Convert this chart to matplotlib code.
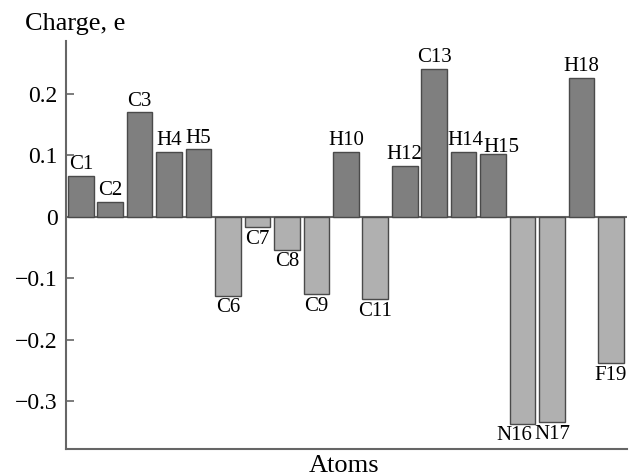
import matplotlib.pyplot as plt
import numpy as np

atoms = ["C1", "C2", "C3", "H4", "H5", "C6", "C7", "C8", "C9", "H10",
         "C11", "H12", "C13", "H14", "H15", "N16", "N17", "H18", "F19"]
charges = [0.067, 0.025, 0.170, 0.106, 0.110, -0.128, -0.016, -0.053, -0.125, 0.106,
           -0.133, 0.083, 0.241, 0.106, 0.102, -0.336, -0.334, 0.226, -0.238]
yticks = [-0.3, -0.2, -0.1, 0, 0.1, 0.2]

# small nudges (points) so crowded labels don't overlap
nudge = {"H14": (1, 0), "H15": (6, -3), "N16": (-6, 0), "N17": (0, 0)}

plt.rcParams['font.family'] = ['Liberation Serif', 'DejaVu Serif']

fig = plt.figure(figsize=(6.29, 4.76), dpi=100)
ax = fig.add_axes([0.105, 0.057, 0.892, 0.857])

x = np.arange(len(atoms))
cols = ["#7f7f7f" if c > 0 else "#b0b0b0" for c in charges]
ax.bar(x, charges, width=0.87, color=cols, edgecolor="#4a4a4a", linewidth=1.0, zorder=2)
ax.axhline(0, color="#666666", linewidth=1.5, zorder=1)

for i, (name, c) in enumerate(zip(atoms, charges)):
    dx, dy = nudge.get(name, (0, 0))
    if c > 0:
        ax.annotate(name, (i, c), xytext=(dx, 1 + dy), textcoords="offset points",
                    ha="center", va="bottom", fontsize=15)
    else:
        ax.annotate(name, (i, c), xytext=(dx, -2 + dy), textcoords="offset points",
                    ha="center", va="top", fontsize=15)

ax.set_xlim(-0.5, 18.55)
ax.set_ylim(-0.377, 0.286)
ax.set_xticks([])
ax.set_yticks(yticks)
ax.set_yticklabels(["\u22120.3", "\u22120.2", "\u22120.1", "0", "0.1", "0.2"])
ax.tick_params(axis="y", direction="in", length=6, width=1.2, color="#666666",
               labelsize=17, pad=6)
for s in ["top", "right"]:
    ax.spines[s].set_visible(False)
for s in ["left", "bottom"]:
    ax.spines[s].set_color("#666666")
    ax.spines[s].set_linewidth(1.5)

fig.text(0.04, 0.95, "Charge, e", fontsize=19, ha="left", va="center")
fig.text(0.547, 0.02, "Atoms", fontsize=19, ha="center", va="center")

fig.savefig("out.png", dpi=100)
